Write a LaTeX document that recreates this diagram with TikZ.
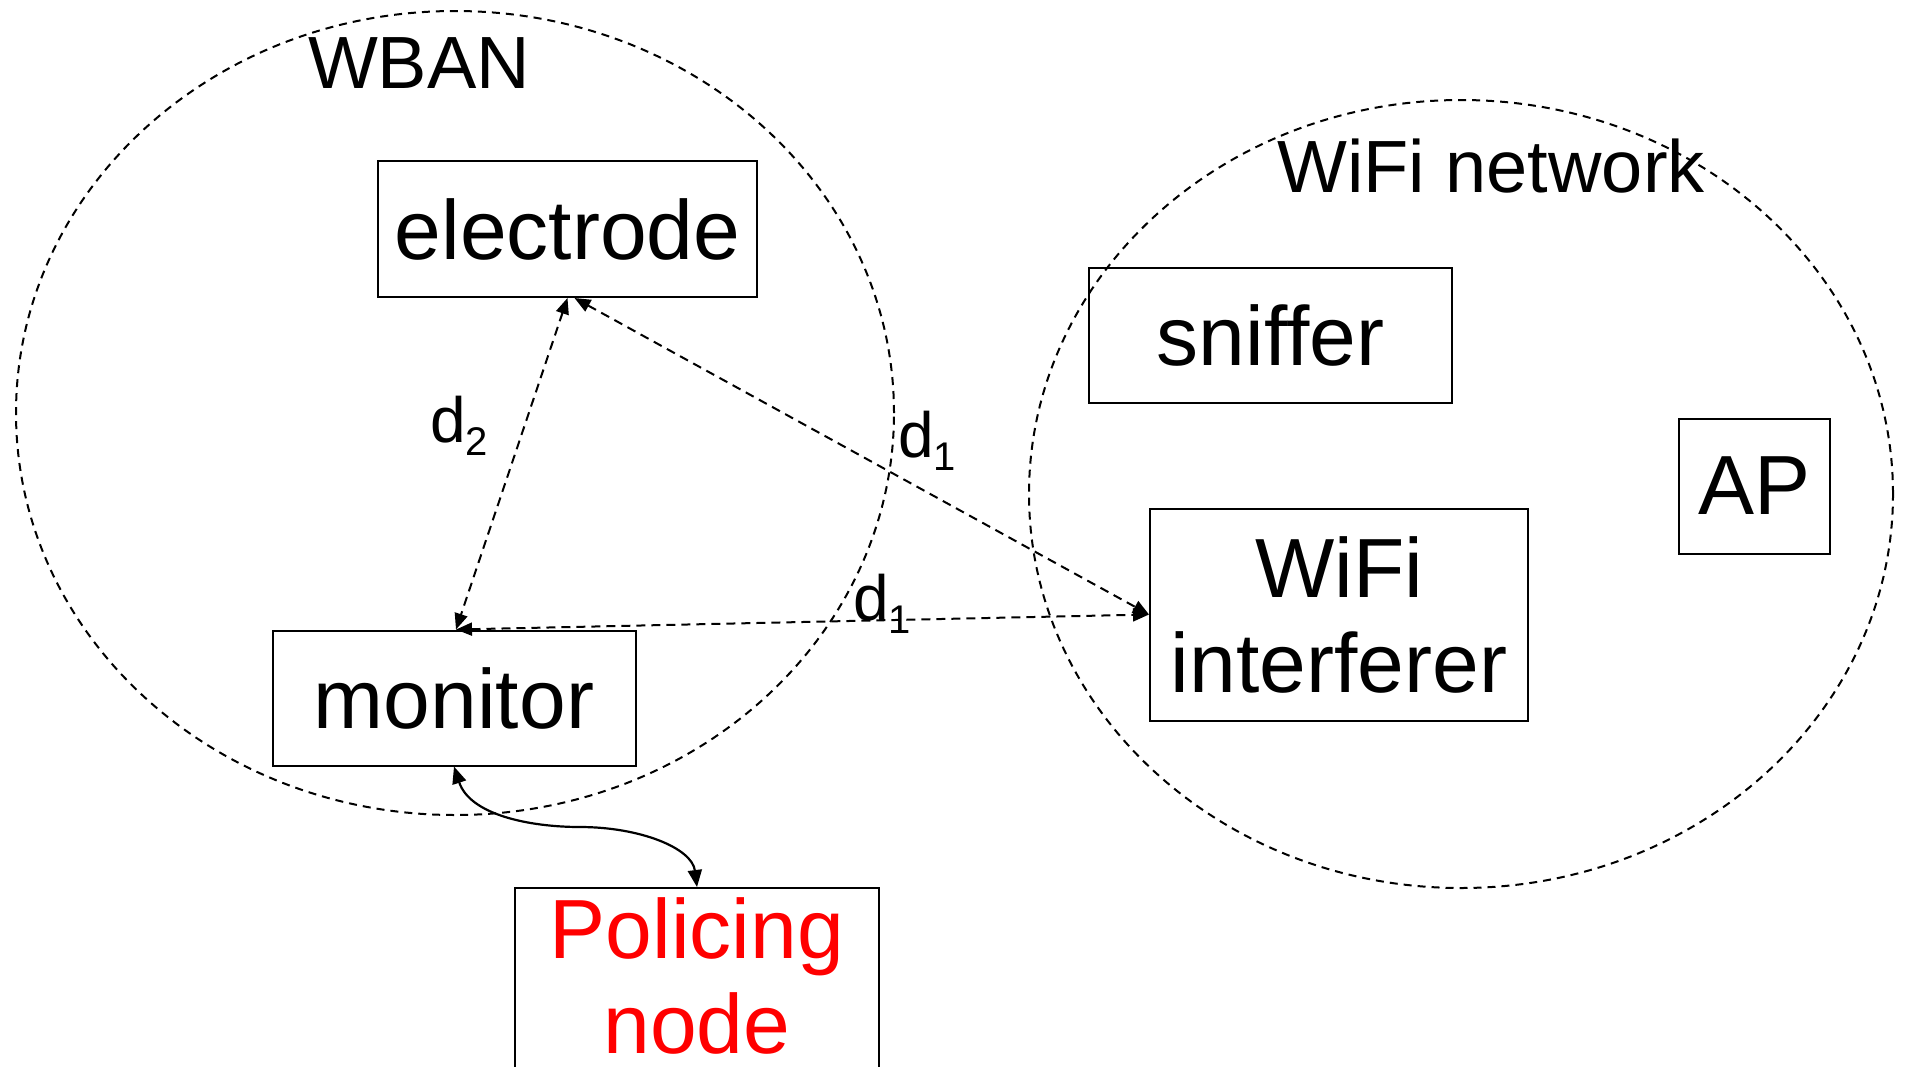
\documentclass[tikz,border=0pt]{standalone}
\usepackage{fontspec}
\setmainfont{Liberation Sans}
\usetikzlibrary{arrows.meta}
% distance label: a letter with a lowered index
\newcommand{\distlabel}[2]{#1\raisebox{-13pt}{\fontsize{40}{40}\selectfont #2}}
\begin{document}
\begin{tikzpicture}[x=1pt,y=-1pt,
  box/.style={draw, line width=2pt, rectangle, inner sep=0pt,
    font=\fontsize{84}{95}\selectfont, align=center},
  zone/.style={draw, line width=2pt, dash pattern=on 8pt off 6pt},
  zonelabel/.style={inner sep=0pt, anchor=base, font=\fontsize{74}{80}\selectfont},
  dlabel/.style={inner sep=0pt, anchor=base west, font=\fontsize{64}{70}\selectfont},
  link/.style={line width=2pt, dash pattern=on 9pt off 6pt,
    {Triangle[length=16pt,width=13pt]}-{Triangle[length=16pt,width=13pt]}},
  wire/.style={line width=2.2pt,
    {Triangle[length=17pt,width=14pt]}-{Triangle[length=17pt,width=14pt]}}]
\useasboundingbox (0,0) rectangle (1908,1066);
\clip (0,0) rectangle (1908,1066);
\fill[white] (0,0) rectangle (1908,1066);

% network areas
\draw[zone] (455,413) ellipse [x radius=439pt, y radius=402pt];
\draw[zone] (1461,494) ellipse [x radius=432pt, y radius=394pt];
\node[zonelabel] (wban) at (419,88) {WBAN};
\node[zonelabel] (wifinet) at (1491,192) {WiFi network};

% devices
\node[box, minimum width=379pt, minimum height=136pt] (el) at (567.5,229) {electrode};
\node[box, minimum width=363pt, minimum height=135pt] (mon) at (454,698) {monitor};
\node[box, minimum width=363pt, minimum height=135pt] (sn) at (1270.5,335.5) {sniffer};
\node[box, minimum width=151pt, minimum height=135pt] (ap) at (1754.5,486) {AP};
\node[box, minimum width=378pt, minimum height=212pt] (intf) at (1339,614.5) {WiFi\\interferer};
\node[box, anchor=north, minimum width=364pt, minimum height=260pt] (pol) at (697,887) {};
\node[inner sep=0pt, anchor=north, align=center, text=red,
  font=\fontsize{84}{95}\selectfont] (poltxt) at (697,897) {Policing\\node};

% distances
\draw[link] (el.south) -- ([xshift=2pt]mon.north);
\draw[link] ([xshift=7pt]el.south) -- (intf.west);
\draw[link] ([xshift=2pt]mon.north) -- (intf.west);
\draw[wire] (mon.south) .. controls (470,815) and (530,827) .. (580,827)
  .. controls (640,827) and (692,848) .. (pol.north);

\node[dlabel] (dtwo) at (430,442) {\distlabel{d}{2}};
\node[dlabel] (done) at (898,457) {\distlabel{d}{1}};
\node[dlabel] (dthree) at (853,620) {\distlabel{d}{1}};
\end{tikzpicture}
\end{document}
